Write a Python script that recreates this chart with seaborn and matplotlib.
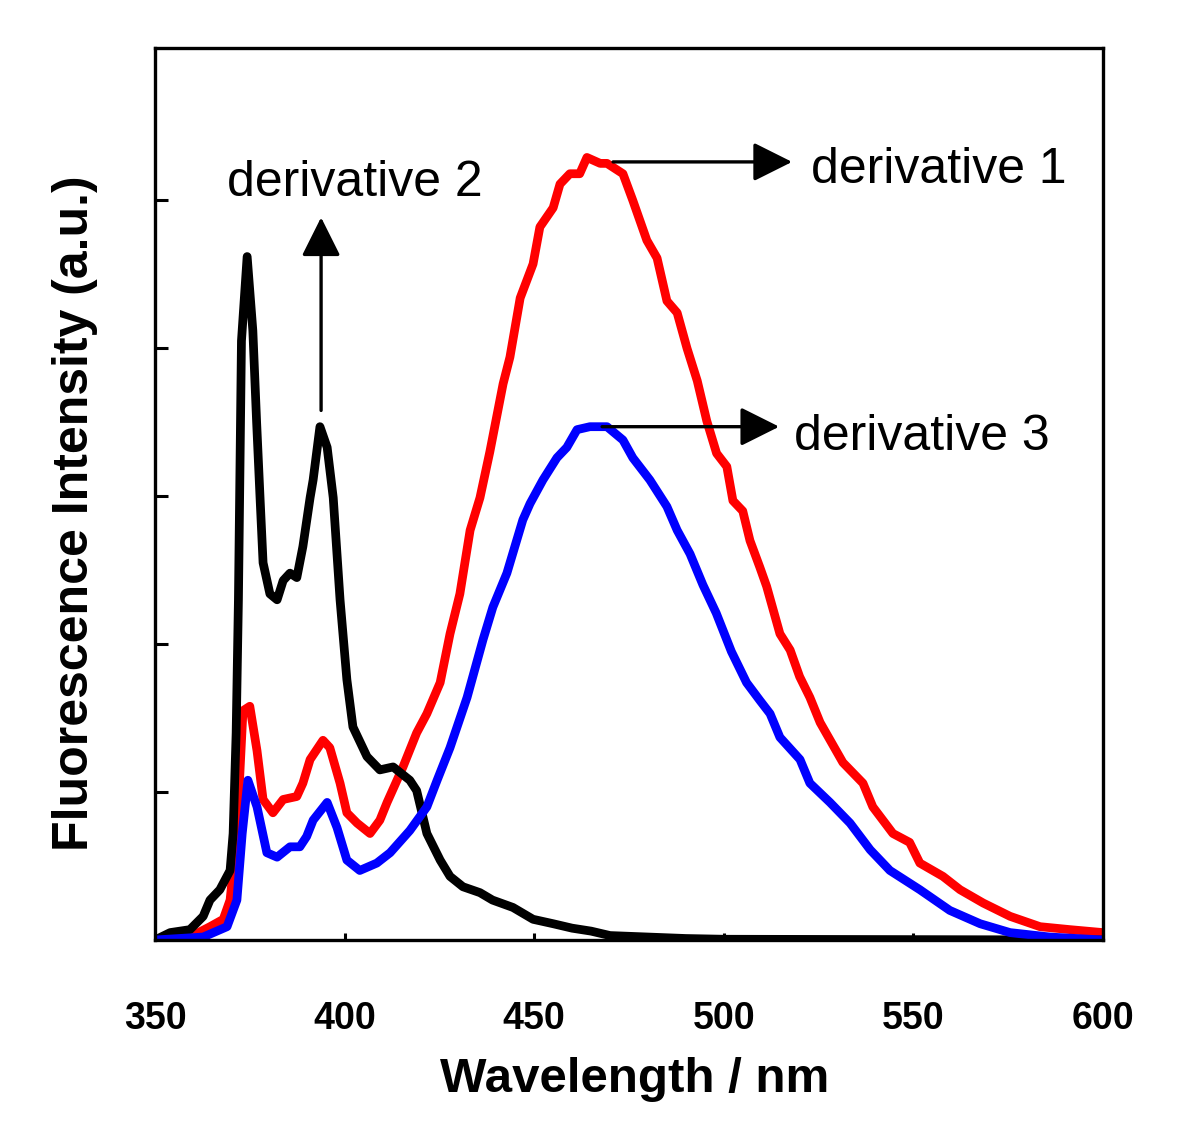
import matplotlib
matplotlib.use("Agg")
import matplotlib.pyplot as plt
import seaborn as sns
import pandas as pd

# ---------------- data ----------------
wl_d2 = [350, 354, 359.2, 362.7, 364.5, 367.1, 369.8, 370.6, 371.4, 372.0,
         372.8, 374.3, 375.8, 376.8, 377.7, 378.5, 380.3, 382.2, 383.8, 385.6,
         387.4, 389, 390.9, 391.7, 393.5, 395.4, 397, 398.8, 400.6, 402.2,
         405.9, 409.3, 412.8, 417.2, 419, 421.7, 425.2, 427.8, 431.2, 435.7,
         439, 444.4, 449.7, 455, 460, 465, 470, 480, 490, 500,
         600]
int_d2 = [0, 0.05, 0.07, 0.16, 0.27, 0.34, 0.47, 0.72, 1.4, 2.3,
          4.05, 4.62, 4.12, 3.5, 2.99, 2.55, 2.34, 2.3, 2.43, 2.48,
          2.45, 2.66, 2.99, 3.11, 3.47, 3.33, 2.99, 2.3, 1.76, 1.44,
          1.24, 1.15, 1.17, 1.08, 1.01, 0.72, 0.54, 0.43, 0.36, 0.32,
          0.27, 0.22, 0.14, 0.11, 0.08, 0.06, 0.03, 0.02, 0.01, 0.005,
          0]

wl_d1 = [350, 359.2, 364.5, 368, 369.8, 371.6, 373.2, 375, 376.9, 378.5,
         381.1, 383.8, 387.4, 389, 390.9, 394.3, 396.1, 398.8, 400.6, 403.3,
         406.7, 409.3, 411.2, 415.4, 419, 421.7, 425.2, 427.8, 430.4, 433.1,
         435.7, 438.3, 441.8, 443.6, 446.3, 449.7, 451.5, 455, 456.8, 459.4,
         462, 463.9, 467.4, 469.2, 473.4, 476, 479.7, 482.4, 485, 487.7,
         490.3, 493, 495.5, 498.1, 500.8, 502.4, 505, 506.9, 509.5, 511.3,
         514.8, 517.5, 520, 522.7, 525.4, 531.4, 536.7, 539.3, 544.6, 549,
         551.7, 557.8, 562.3, 568.4, 575.5, 583.4, 591.3, 600]
int_d1 = [0, 0.02, 0.09, 0.14, 0.27, 0.72, 1.55, 1.58, 1.28, 0.95,
          0.86, 0.95, 0.97, 1.06, 1.22, 1.35, 1.3, 1.06, 0.86, 0.79,
          0.72, 0.81, 0.93, 1.17, 1.4, 1.53, 1.74, 2.07, 2.34, 2.77,
          2.99, 3.3, 3.76, 3.94, 4.34, 4.57, 4.82, 4.95, 5.11, 5.18,
          5.18, 5.29, 5.25, 5.25, 5.18, 5.0, 4.73, 4.61, 4.32, 4.24,
          4.0, 3.78, 3.51, 3.29, 3.2, 2.97, 2.9, 2.7, 2.52, 2.39,
          2.07, 1.96, 1.78, 1.64, 1.47, 1.2, 1.06, 0.9, 0.72, 0.66,
          0.52, 0.43, 0.34, 0.25, 0.16, 0.09, 0.07, 0.05]

wl_d3 = [350, 362.7, 369, 371.6, 373, 374.5, 376.9, 379.5, 382.2, 385.6,
         388.2, 390, 391.7, 395.4, 398, 400.6, 404, 408.5, 412, 417.2,
         421.7, 424.4, 427.8, 432.3, 436.5, 439.1, 442.8, 447, 448.9, 452.3,
         456, 458.6, 461.3, 464.7, 469.2, 473.4, 476, 480.5, 485, 487.7,
         491.1, 494.5, 498, 502, 506, 509.5, 512.2, 514.8, 520.1, 522.7,
         528, 533.3, 538.6, 543.8, 551.7, 559.6, 567.6, 575.5, 586, 600]
int_d3 = [0, 0.02, 0.09, 0.27, 0.72, 1.08, 0.9, 0.59, 0.56, 0.63,
          0.63, 0.7, 0.81, 0.93, 0.76, 0.54, 0.47, 0.52, 0.59, 0.74,
          0.9, 1.08, 1.3, 1.64, 2.03, 2.25, 2.48, 2.84, 2.95, 3.11,
          3.26, 3.33, 3.45, 3.47, 3.47, 3.38, 3.26, 3.11, 2.93, 2.77,
          2.61, 2.4, 2.21, 1.95, 1.74, 1.62, 1.53, 1.37, 1.22, 1.06,
          0.93, 0.79, 0.61, 0.47, 0.34, 0.2, 0.11, 0.05, 0.02, 0]

series_names = ["derivative 1", "derivative 2", "derivative 3"]
series_colors = {"derivative 1": "#ff0000", "derivative 2": "#000000", "derivative 3": "#0000ff"}
x_ticks = [350, 400, 450, 500, 550, 600]
y_ticks = [1, 2, 3, 4, 5]

# ---------------- build long-form table ----------------
frames = []
for name, wl, iv in [("derivative 1", wl_d1, int_d1),
                     ("derivative 2", wl_d2, int_d2),
                     ("derivative 3", wl_d3, int_d3)]:
    frames.append(pd.DataFrame({"Wavelength": wl, "Intensity": iv, "Sample": name}))
df = pd.concat(frames, ignore_index=True)

# ---------------- plot ----------------
sns.set_style("ticks")
plt.rcParams["font.family"] = ["Liberation Sans", "DejaVu Sans"]
plt.rcParams["text.color"] = "black"
plt.rcParams["axes.labelcolor"] = "black"
plt.rcParams["xtick.color"] = "black"
plt.rcParams["ytick.color"] = "black"
plt.rcParams["axes.edgecolor"] = "black"

fig = plt.figure(figsize=(12, 11.44), dpi=100)
ax = fig.add_axes([155 / 1200, 1 - 940 / 1144, (1103 - 155) / 1200, (940 - 48) / 1144])

sns.lineplot(data=df, x="Wavelength", y="Intensity", hue="Sample",
             hue_order=series_names, palette=series_colors,
             sort=False, estimator=None, linewidth=6.3, legend=False, ax=ax)
for ln in ax.get_lines():
    ln.set_solid_joinstyle("round")
    ln.set_solid_capstyle("round")

ax.set_xlim(350, 600)
ax.set_ylim(0, 6.03)
ax.set_xticks(x_ticks)
ax.set_xticklabels([str(t) for t in x_ticks], fontsize=27, fontweight="bold", color="black")
ax.set_yticks(y_ticks)
ax.set_yticklabels([])
ax.tick_params(axis="x", direction="in", length=5, width=2.2, pad=44, colors="black")
ax.tick_params(axis="y", direction="in", length=9, width=2.2, colors="black")
for s in ax.spines.values():
    s.set_linewidth(2.4)
    s.set_color("black")
ax.set_xlabel("")
ax.set_ylabel("")

fig.text(635 / 1200, 1 - 1080 / 1144, "Wavelength / nm", fontsize=35.5,
         fontweight="bold", ha="center", va="center", color="black")
fig.text(75 / 1200, 1 - 513 / 1144, "Fluorescence Intensity (a.u.)", fontsize=36,
         fontweight="bold", ha="center", va="center", rotation=90, color="black")

arrow_kw = dict(arrowstyle="-|>,head_length=0.4,head_width=0.2", mutation_scale=60,
                lw=2.4, color="black", shrinkA=0, shrinkB=0)
ax.annotate("", xy=(393.8, 4.885), xytext=(393.8, 3.58), arrowprops=arrow_kw)
ax.annotate("", xy=(518.0, 5.26), xytext=(470.8, 5.26), arrowprops=arrow_kw)
ax.annotate("", xy=(514.6, 3.47), xytext=(467.9, 3.47), arrowprops=arrow_kw)

ax.text(369.0, 5.03, "derivative 2", fontsize=36, ha="left", va="baseline", color="black")
ax.text(523.0, 5.12, "derivative 1", fontsize=36, ha="left", va="baseline", color="black")
ax.text(518.5, 3.31, "derivative 3", fontsize=36, ha="left", va="baseline", color="black")

fig.savefig("out.png", dpi=100)
